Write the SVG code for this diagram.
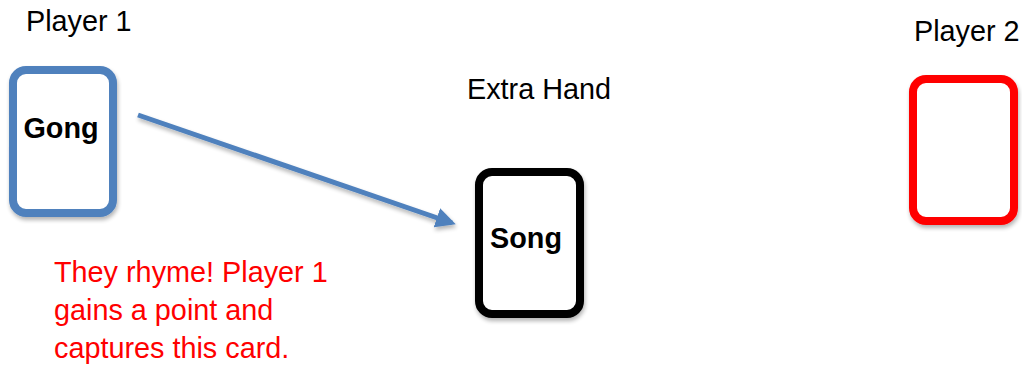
<svg xmlns="http://www.w3.org/2000/svg" width="1022" height="366" viewBox="0 0 1022 366">
<style>
.lbl{font-family:"Liberation Sans",Arial,sans-serif;font-size:28.8px;fill:#000}
.bold{font-weight:bold}
.red{fill:#FF0000}
.card{fill:#fff;stroke-width:8}
</style>
<defs>
<filter id="sh" x="-20%" y="-20%" width="140%" height="140%">
<feGaussianBlur in="SourceAlpha" stdDeviation="2"/>
<feOffset dx="1" dy="3" result="b"/>
<feComponentTransfer><feFuncA type="linear" slope="0.3"/></feComponentTransfer>
<feMerge><feMergeNode/><feMergeNode in="SourceGraphic"/></feMerge>
</filter>
<marker id="ah" viewBox="0 0 10 10" refX="8" refY="5" markerWidth="4" markerHeight="4" orient="auto" markerUnits="strokeWidth">
<path d="M0,0 L10,5 L0,10 z" fill="#4F81BD"/>
</marker>
</defs>
<rect width="1022" height="366" fill="#fff"/>
<g id="player1">
<text class="lbl" x="26" y="31">Player 1</text>
<rect class="card" x="13" y="70" width="100" height="143" rx="13" stroke="#4F81BD" filter="url(#sh)"/>
<text class="lbl bold" x="61" y="138" text-anchor="middle">Gong</text>
</g>
<g id="extrahand">
<text class="lbl" x="467" y="99">Extra Hand</text>
<rect class="card" x="479" y="172" width="101" height="142" rx="13" stroke="#000" filter="url(#sh)"/>
<text class="lbl bold" x="526" y="248" text-anchor="middle">Song</text>
</g>
<g id="player2">
<text class="lbl" x="914" y="41">Player 2</text>
<rect class="card" x="913" y="79" width="101" height="142" rx="13" stroke="#FF0000" filter="url(#sh)"/>
</g>
<g id="note">
<text class="lbl red" x="54" y="282">They rhyme! Player 1</text>
<text class="lbl red" x="54" y="320">gains a point and</text>
<text class="lbl red" x="54" y="358">captures this card.</text>
</g>
<g id="connectors">
<line x1="138" y1="115" x2="452" y2="223" stroke="#4F81BD" stroke-width="5" marker-end="url(#ah)" filter="url(#sh)"/>
</g>
</svg>
